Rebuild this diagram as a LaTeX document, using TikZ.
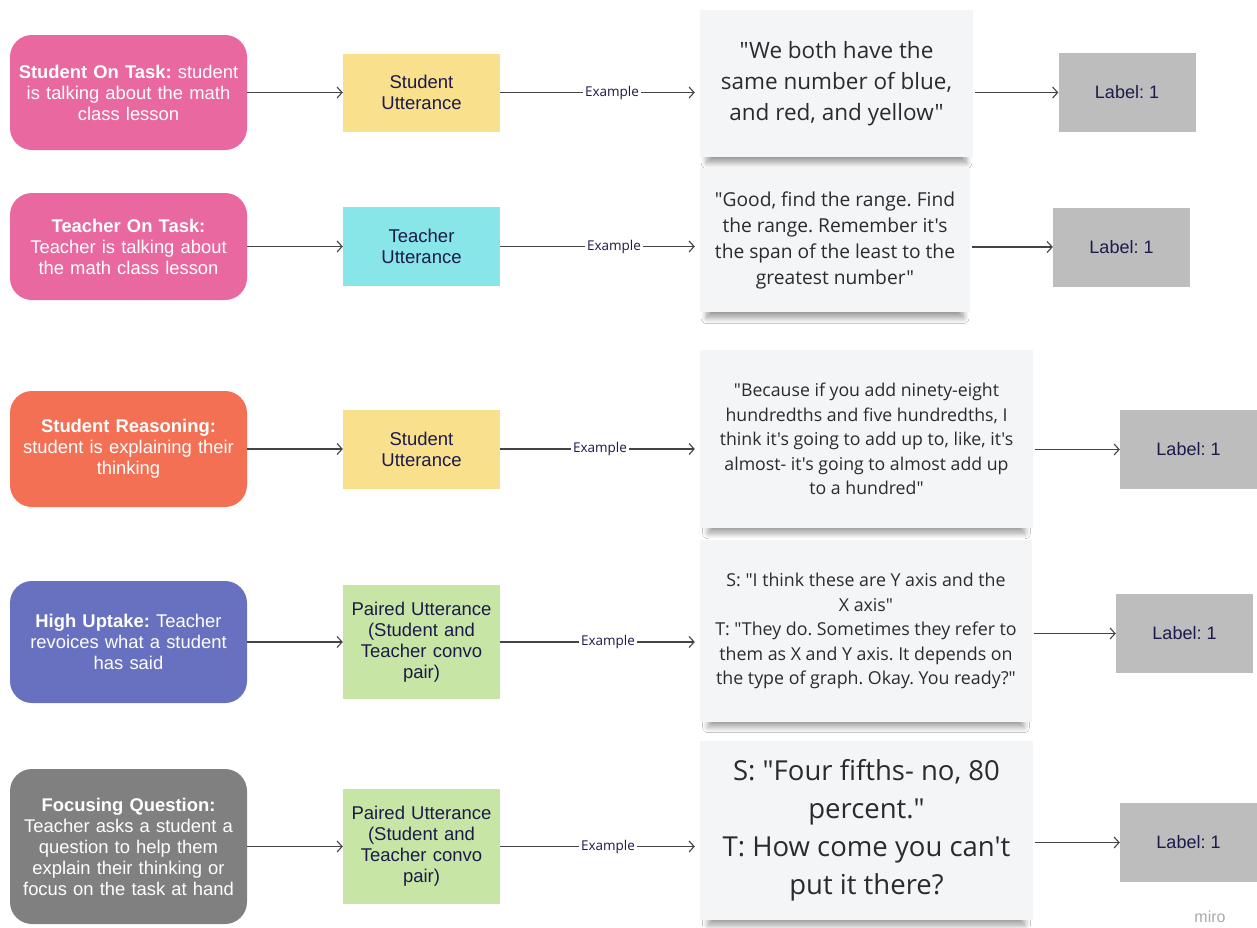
\documentclass[tikz,border=0pt]{standalone}
\usepackage{fontspec}
\setmainfont{Liberation Sans}
\newfontfamily\cardfont{Open Sans}
\usepackage{tikz}
\usetikzlibrary{arrows.meta,shadows.blur}
\definecolor{pinkcat}{HTML}{E8689F}
\definecolor{orangecat}{HTML}{F47054}
\definecolor{bluecat}{HTML}{6870C0}
\definecolor{graycat}{HTML}{808080}
\definecolor{yellowutt}{HTML}{F9E08C}
\definecolor{cyanutt}{HTML}{88E5E8}
\definecolor{greenutt}{HTML}{C7E6A6}
\definecolor{labgray}{HTML}{BDBDBD}
\definecolor{cardfill}{HTML}{F4F5F7}
\definecolor{cardtext}{HTML}{2B2B2B}
\definecolor{navy}{HTML}{1B1A4A}
\definecolor{linegray}{HTML}{444444}
\frenchspacing
\begin{document}
\begin{tikzpicture}[x=1pt,y=-1pt,font=\fontsize{18.4}{21}\selectfont,cat/.style={rounded corners=22pt,text=white,align=center,minimum width=237pt,text width=230pt,inner sep=0pt},utt/.style={align=center,text=navy,minimum width=157pt,text width=152pt,inner sep=0pt,font=\fontsize{18.5}{21}\selectfont},card/.style={fill=cardfill,align=center,text=cardtext,inner sep=0pt,blur shadow={shadow xshift=0pt,shadow yshift=-10pt,shadow scale=0.95,shadow blur radius=6pt,shadow blur steps=12,shadow opacity=40}},lab/.style={fill=labgray,text=navy,minimum width=137pt,minimum height=79pt,font=\fontsize{18}{21}\selectfont},arr/.style={-{Straight Barb[length=5pt,width=11pt]},draw=linegray,line width=1.1pt},ex/.style={fill=white,text=navy,inner sep=2pt,font=\cardfont\fontsize{13.5}{15}\selectfont}]
\useasboundingbox[fill=white] (0,0) rectangle (1257,927);
% categories
\node[cat,fill=pinkcat,minimum height=115pt] (l1) at (128.5,92.5) {\textbf{Student On Task:} student\\is talking about the math\\class lesson};
\node[cat,fill=pinkcat,minimum height=107pt] (l2) at (128.5,246.5) {\textbf{Teacher On Task:}\\Teacher is talking about\\the math class lesson};
\node[cat,fill=orangecat,minimum height=116pt] (l3) at (128.5,449) {\textbf{Student Reasoning:}\\student is explaining their\\thinking};
\node[cat,fill=bluecat,minimum height=122pt] (l4) at (128.5,642) {\textbf{High Uptake:} Teacher\\revoices what a student\\has said};
\node[cat,fill=graycat,minimum height=155pt] (l5) at (128.5,846.5) {\textbf{Focusing Question:}\\Teacher asks a student a\\question to help them\\explain their thinking or\\focus on the task at hand};
% utterance types
\node[utt,fill=yellowutt,minimum height=78pt] (m1) at (421.5,92.5) {Student\\Utterance};
\node[utt,fill=cyanutt,minimum height=79pt] (m2) at (421.5,246.5) {Teacher\\Utterance};
\node[utt,fill=yellowutt,minimum height=79pt] (m3) at (421.5,449) {Student\\Utterance};
\node[utt,fill=greenutt,minimum height=114pt] (m4) at (421.5,642) {Paired Utterance\\(Student and\\Teacher convo\\pair)};
\node[utt,fill=greenutt,minimum height=115pt] (m5) at (421.5,846.5) {Paired Utterance\\(Student and\\Teacher convo\\pair)};
% examples
\node[card,minimum width=273pt,minimum height=147pt,font=\cardfont\fontsize{22.5}{31}\selectfont] (c1) at (836.5,83.5) {"We both have the\\same number of blue,\\and red, and yellow"};
\node[card,minimum width=270pt,minimum height=144pt,font=\cardfont\fontsize{19.2}{26}\selectfont] (c2) at (835,240) {"Good, find the range. Find\\the range. Remember it's\\the span of the least to the\\greatest number"};
\node[card,minimum width=333pt,minimum height=178pt,font=\cardfont\fontsize{17.7}{24.5}\selectfont] (c3) at (866.5,439) {"Because if you add ninety-eight\\hundredths and five hundredths, I\\think it's going to add up to, like, it's\\almost- it's going to almost add up\\to a hundred"};
\node[card,minimum width=332pt,minimum height=182pt,font=\cardfont\fontsize{17.8}{24.5}\selectfont] (c4) at (866,631) {S: "I think these are Y axis and the\\X axis"\\T: "They do. Sometimes they refer to\\them as X and Y axis. It depends on\\the type of graph. Okay. You ready?"};
\node[card,minimum width=333pt,minimum height=179pt,font=\cardfont\fontsize{27.5}{38}\selectfont] (c5) at (866.5,830.5) {S: "Four fifths- no, 80\\percent."\\T: How come you can't\\put it there?};
% labels
\node[lab] (b1) at (1127,92.5) {Label: 1};
\node[lab] (b2) at (1121.5,247) {Label: 1};
\node[lab] (b3) at (1188.5,449.5) {Label: 1};
\node[lab] (b4) at (1184.5,633.5) {Label: 1};
\node[lab] (b5) at (1188.5,842.5) {Label: 1};
\node[text=labgray!90!black,font=\fontsize{16}{16}\selectfont] (miro) at (1210,917) {miro};
\foreach \i/\p in {1/.56,2/.57,3/.5,4/.54,5/.54}{
\draw[arr] (l\i) -- (m\i);
\draw[arr,shorten >=5pt] (m\i) -- node[ex,pos=\p]{Example} (m\i -| c\i.west);
\draw[arr,shorten <=2pt] (c\i.east |- b\i) -- (b\i);}
\end{tikzpicture}
\end{document}
